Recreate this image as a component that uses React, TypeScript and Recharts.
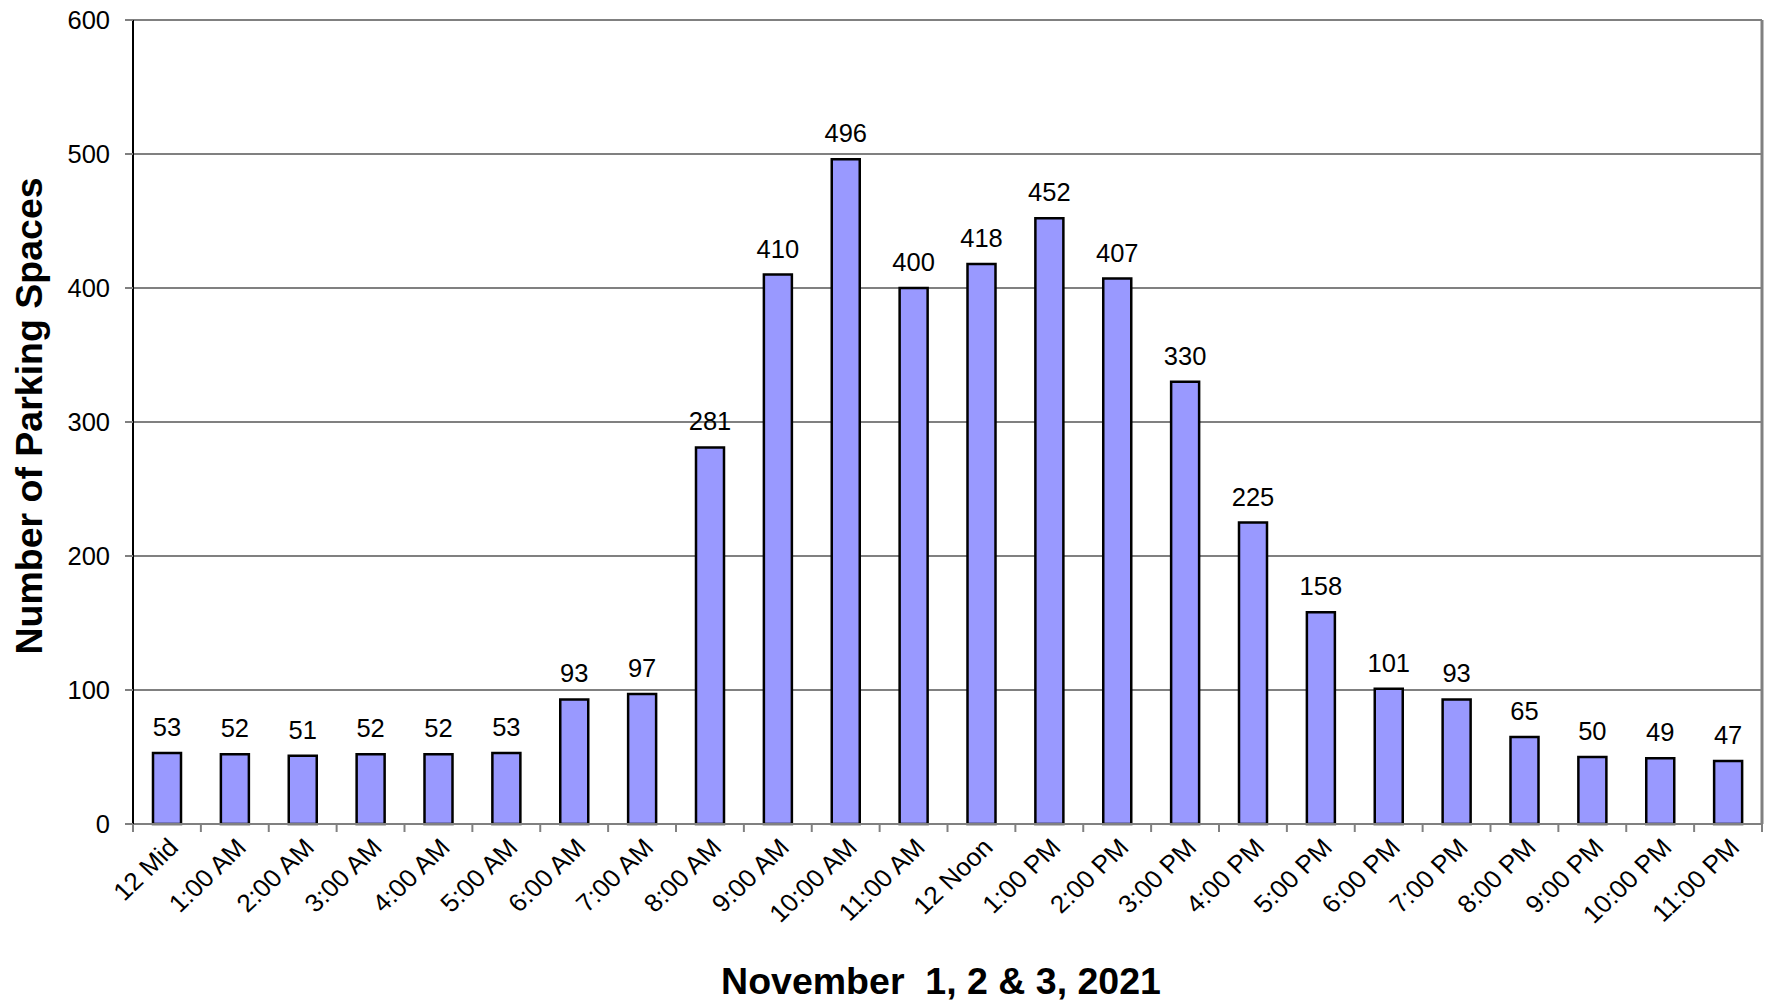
import React from 'react';
import { BarChart, Bar, XAxis, YAxis, CartesianGrid, LabelList, Label } from 'recharts';

const hours = [
  '12 Mid', '1:00 AM', '2:00 AM', '3:00 AM', '4:00 AM', '5:00 AM', '6:00 AM', '7:00 AM',
  '8:00 AM', '9:00 AM', '10:00 AM', '11:00 AM', '12 Noon', '1:00 PM', '2:00 PM', '3:00 PM',
  '4:00 PM', '5:00 PM', '6:00 PM', '7:00 PM', '8:00 PM', '9:00 PM', '10:00 PM', '11:00 PM',
];
const spaces = [53, 52, 51, 52, 52, 53, 93, 97, 281, 410, 496, 400, 418, 452, 407, 330, 225, 158, 101, 93, 65, 50, 49, 47];
const yTicks = [0, 100, 200, 300, 400, 500, 600];

const data = hours.map((h, i) => ({ hour: h, spaces: spaces[i] }));

const FONT = '"Liberation Sans", Arial, sans-serif';

// Excel-style x ticks: marks sit on category boundaries, labels slanted
function HourTick(props: any) {
  const { x, y, payload, index } = props;
  const half = payload?.offset ?? 34;
  const last = index === hours.length - 1;
  const tx = x + 13;
  const ty = y + 25;
  return (
    <g>
      <line x1={x - half} y1={y} x2={x - half} y2={y + 8} stroke="#808080" strokeWidth={2} />
      {last && <line x1={x + half} y1={y} x2={x + half} y2={y + 8} stroke="#808080" strokeWidth={2} />}
      <text
        x={0}
        y={0}
        transform={`translate(${tx} ${ty}) scale(1.05 1) rotate(-45)`}
        textAnchor="end"
        fontSize={25}
        fontFamily={FONT}
        fill="#000"
      >
        {payload.value}
      </text>
    </g>
  );
}

export default function App() {
  return (
    <div style={{ width: 1765, height: 1004 }}>
      <style>{'body{margin:0}'}</style>
      <BarChart width={1765} height={1004} data={data} margin={{ top: 20, right: 0, left: 0, bottom: 0 }}>
        <CartesianGrid vertical={false} stroke="#808080" strokeWidth={2} />
        <XAxis
          dataKey="hour"
          height={180}
          interval={0}
          tickSize={0}
          tickMargin={0}
          tick={<HourTick />}
          axisLine={{ stroke: '#808080', strokeWidth: 2 }}
        >
          <Label
            content={() => (
              <text x={941} y={994} textAnchor="middle" fontSize={37.5} fontWeight="bold" fontFamily={FONT} fill="#000" style={{ whiteSpace: 'pre' }}>
                {'November  1, 2 & 3, 2021'}
              </text>
            )}
          />
        </XAxis>
        <YAxis
          width={133}
          domain={[0, 600]}
          ticks={yTicks}
          interval={0}
          tickSize={8}
          tickMargin={15}
          tick={{ fill: '#000', fontSize: 25.5, fontFamily: FONT }}
          tickLine={{ stroke: '#808080', strokeWidth: 2 }}
          axisLine={{ stroke: '#000', strokeWidth: 2 }}
        >
          <Label
            content={() => (
              <text x={42} y={416} transform="rotate(-90 42 416)" textAnchor="middle" fontSize={37.5} fontWeight="bold" fontFamily={FONT} fill="#000">
                Number of Parking Spaces
              </text>
            )}
          />
        </YAxis>
        <YAxis
          yAxisId="frame"
          orientation="right"
          width={3}
          domain={[0, 600]}
          tick={false}
          tickLine={false}
          axisLine={{ stroke: '#808080', strokeWidth: 3 }}
        />
        <Bar dataKey="spaces" barSize={28} fill="#9999FF" stroke="#000" strokeWidth={2.5} isAnimationActive={false}>
          <LabelList dataKey="spaces" position="top" offset={17} fill="#000" fontSize={25.5} fontFamily={FONT} />
        </Bar>
      </BarChart>
    </div>
  );
}
